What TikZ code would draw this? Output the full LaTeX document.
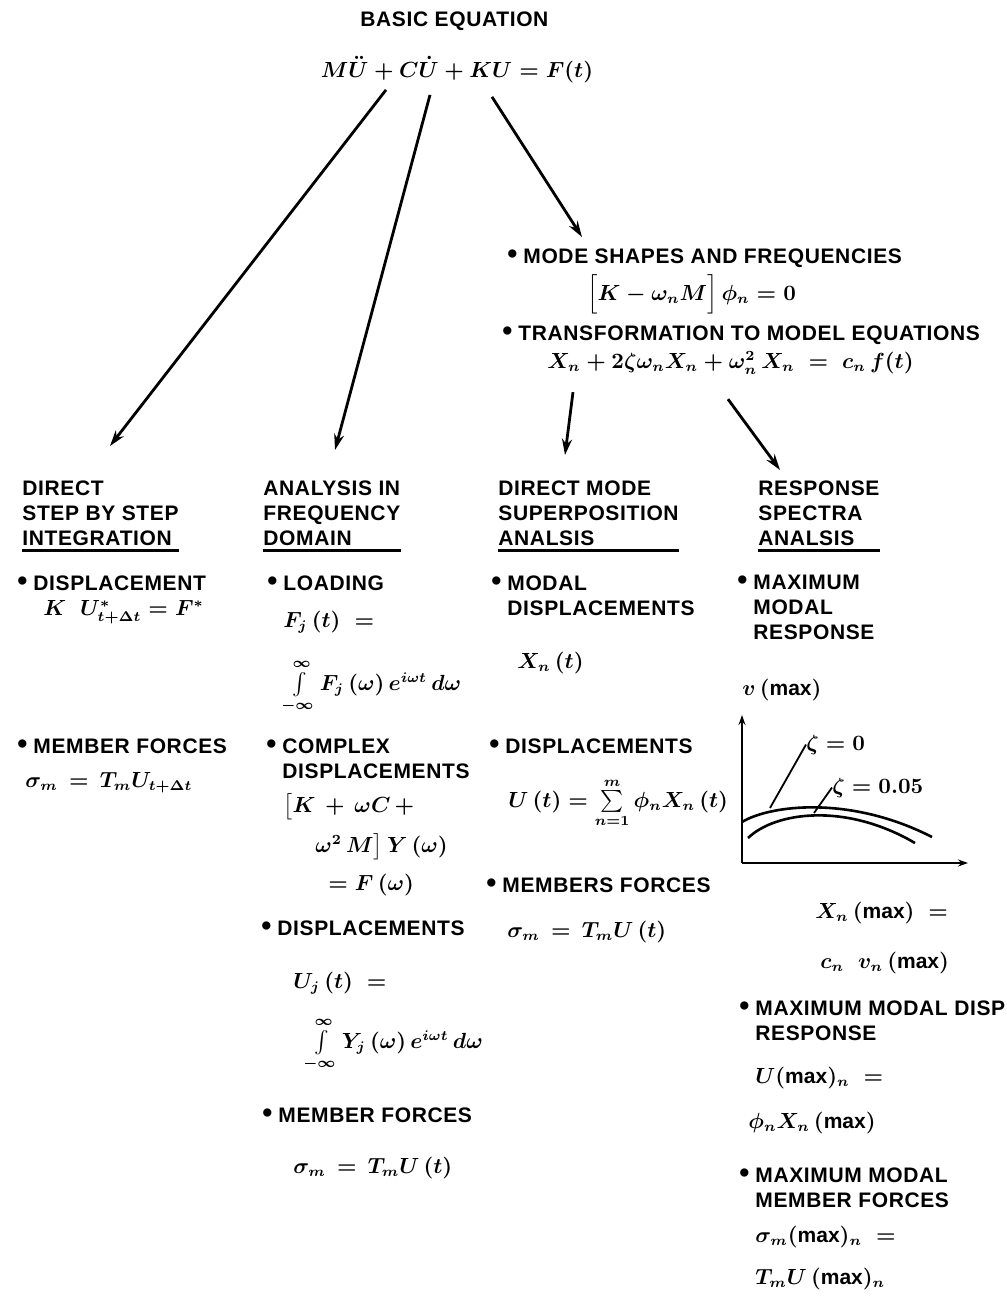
\documentclass[tikz,border=0pt]{standalone}
\usepackage{amsmath}
\usepackage{fontspec}
\setmainfont[LetterSpace=3]{Liberation Sans}
\usepackage{tikz}
\usetikzlibrary{arrows.meta}

\newcommand{\bul}{\llap{{\Large\textbullet}\hspace{3pt}}}

\begin{document}
\begin{tikzpicture}[x=0.5pt, y=-0.5pt,
    txt/.style={anchor=north west, inner sep=0pt, align=left,
      font=\bfseries\fontsize{10.5}{12.5}\selectfont},
    eqn/.style={anchor=base west, inner sep=0pt,
      font=\fontsize{10.5}{12.5}\selectfont\boldmath},
    flow/.style={line width=1.4pt, -{Stealth[length=8pt, width=5pt]}},
    uline/.style={line width=1.2pt},
    axis/.style={line width=1pt, -{Stealth[length=5pt, width=3.5pt]}},
    curve/.style={line width=1.3pt},
    lead/.style={line width=0.9pt}]

  \useasboundingbox (0,0) rectangle (1007,1298);

  % basic equation
  \node[txt] (title) at (360,11) {BASIC EQUATION};
  \node[eqn, anchor=base] (eq) at (457,77)
    {$M\ddot{U} + C\dot{U} + KU = F(t)$};

  % modal branch
  \node[txt] (m1) at (523,248) {\bul MODE SHAPES AND FREQUENCIES};
  \node[eqn] (m2) at (587,300)
    {$\Bigl[K - \omega_n M\Bigr]\, \phi_n = 0$};
  \node[txt] (m3) at (518,325) {\bul TRANSFORMATION TO MODEL EQUATIONS};
  \node[eqn] (m4) at (547,368)
    {$X_n + 2\zeta\omega_n X_n + \omega_n^2\, X_n \;=\; c_n\, f(t)$};

  \begin{scope}[shift={(22,0)}]
    \node[txt] (h1) at (0,480) {DIRECT\\STEP BY STEP\\INTEGRATION};
    \node[txt] (c1a) at (11,575) {\bul DISPLACEMENT};
    \node[eqn] (c1b) at (21,615) {$K\;\; U^{*}_{t+\Delta t} = F^{*}$};
    \node[txt] (c1c) at (11,738) {\bul MEMBER FORCES};
    \node[eqn] (c1d) at (3,787) {$\sigma_m \,=\, T_m U_{t+\Delta t}$};
  \end{scope}

  \begin{scope}[shift={(263,0)}]
    \node[txt] (h2) at (0,480) {ANALYSIS IN\\FREQUENCY\\DOMAIN};
    \node[txt] (c2a) at (20,575) {\bul LOADING};
    \node[eqn] (c2b) at (20,627) {$F_j\,(t) \;=$};
    \node[eqn] (c2c) at (20,690)
      {$\int\limits_{-\infty}^{\infty} F_j\,(\omega)\, e^{i\omega t}\, d\omega$};
    \node[txt] (c2d) at (19,738) {\bul COMPLEX\\DISPLACEMENTS};
    \node[eqn] (c2e) at (20,812) {$\bigl[K \,+\, \omega C \,+$};
    \node[eqn] (c2f) at (52,852) {$\omega^2\, M\bigr]\, Y\,(\omega)$};
    \node[eqn] (c2g) at (65,890) {$=F\,(\omega)$};
    \node[txt] (c2h) at (14,920) {\bul DISPLACEMENTS};
    \node[eqn] (c2i) at (30,988) {$U_j\,(t) \;=$};
    \node[eqn] (c2j) at (42,1048)
      {$\int\limits_{-\infty}^{\infty} Y_j\,(\omega)\, e^{i\omega t}\, d\omega$};
    \node[txt] (c2k) at (15,1107) {\bul MEMBER FORCES};
    \node[eqn] (c2l) at (30,1173) {$\sigma_m \,=\, T_m U\,(t)$};
  \end{scope}

  \begin{scope}[shift={(498,0)}]
    \node[txt] (h3) at (0,480) {DIRECT MODE\\SUPERPOSITION\\ANALSIS};
    \node[txt] (c3a) at (9,575) {\bul MODAL\\DISPLACEMENTS};
    \node[eqn] (c3b) at (19,668) {$X_n\,(t)$};
    \node[txt] (c3c) at (7,738) {\bul DISPLACEMENTS};
    \node[eqn] (c3d) at (10,807)
      {$U\,(t) = \sum\limits_{n=1}^{m} \phi_n X_n\,(t)$};
    \node[txt] (c3e) at (4,877) {\bul MEMBERS FORCES};
    \node[eqn] (c3f) at (9,937) {$\sigma_m \,=\, T_m U\,(t)$};
  \end{scope}

  \begin{scope}[shift={(742,0)}]
    \node[txt] (h4) at (16,480) {RESPONSE\\SPECTRA\\ANALSIS};
    \node[txt] (c4a) at (11,575) {\bul MAXIMUM\\MODAL\\RESPONSE};
    \node[eqn] (c4b) at (0,695) {$v\,(\mathrm{max})$};

    \draw[axis] (0,863) -- (0,715);
    \draw[axis] (0,863) -- (226,863);
    \draw[curve] (0,822) .. controls (28,805) and (108,795) .. (190,837);
    \draw[curve] (6,838) .. controls (33,812) and (103,802) .. (173,843);
    \node[eqn] (z0) at (64,750) {$\zeta = 0$};
    \node[eqn] (z1) at (90,793) {$\zeta = 0.05$};
    \draw[lead] (28,808) -- (z0.west);
    \draw[lead] (72,813) -- (z1.west);

    \node[eqn] (c4c) at (73,918) {$X_n\,(\mathrm{max}) \;=$};
    \node[eqn] (c4d) at (78,968) {$c_n\;\; v_n\,(\mathrm{max})$};
    \node[txt] (c4e) at (13,1000) {\bul MAXIMUM MODAL DISP\\RESPONSE};
    \node[eqn] (c4f) at (13,1083) {$U(\mathrm{max})_n \;=$};
    \node[eqn] (c4g) at (6,1128) {$\phi_n X_n\,(\mathrm{max})$};
    \node[txt] (c4h) at (13,1167) {\bul MAXIMUM MODAL\\MEMBER FORCES};
    \node[eqn] (c4i) at (13,1242) {$\sigma_m(\mathrm{max})_n \;=$};
    \node[eqn] (c4j) at (13,1284) {$T_m U\,(\mathrm{max})_n$};
  \end{scope}

  \draw[uline] ([yshift=-2.5pt]h1.south west) -- ([yshift=-2.5pt]h1.south east);
  \draw[uline] ([yshift=-2.5pt]h2.south west) -- ([yshift=-2.5pt]h2.south east);
  \draw[uline] ([yshift=-2.5pt]h3.south west) -- ([yshift=-2.5pt]h3.south east);
  \draw[uline] ([yshift=-2.5pt]h4.south west) -- ([yshift=-2.5pt]h4.south east);

  \draw[flow] ([shift={(-71,7)}]eq.south) -- ([shift={(88,-34)}]h1.north west);
  \draw[flow] ([shift={(-27,12)}]eq.south) -- ([shift={(72,-30)}]h2.north west);
  \draw[flow] ([shift={(35,14)}]eq.south) -- ([shift={(59,-11)}]m1.north west);
  \draw[flow] ([shift={(26,17)}]m4.south west) -- ([shift={(67,-25)}]h3.north west);
  \draw[flow] ([shift={(181,24)}]m4.south west) -- ([shift={(22,-10)}]h4.north west);

\end{tikzpicture}
\end{document}
